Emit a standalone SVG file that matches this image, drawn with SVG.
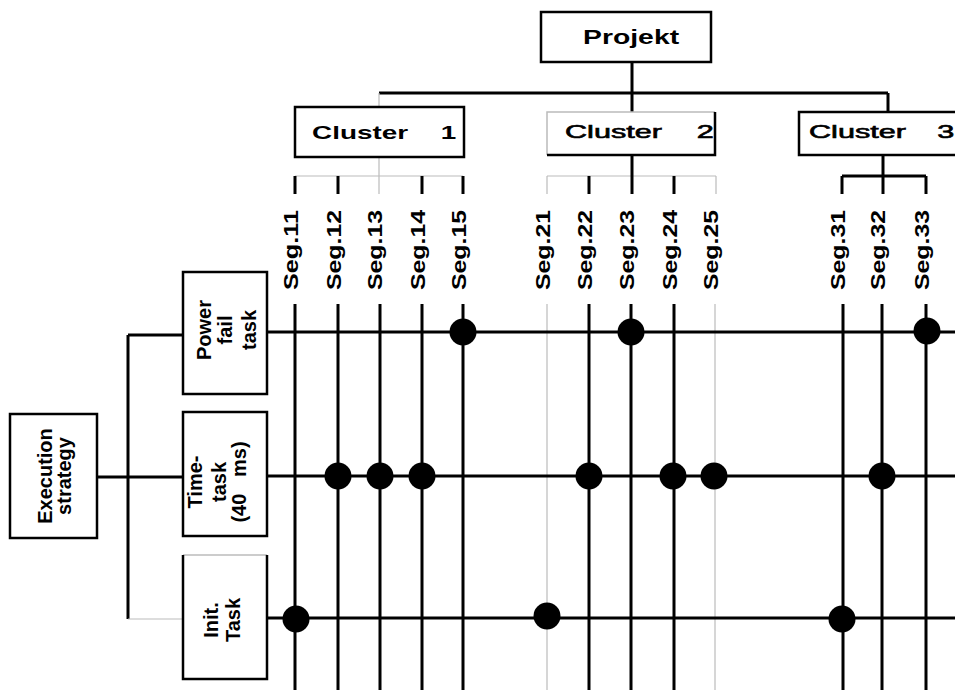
<svg xmlns="http://www.w3.org/2000/svg" width="955" height="690" viewBox="0 0 955 690">
<style>
.bk{stroke:#000;stroke-width:3;fill:none}
.gr{stroke:#bbb;stroke-width:1.2;fill:none}
.box{fill:#fff;stroke:#000;stroke-width:2.5}
.t{font-family:"Liberation Sans",Arial,sans-serif;font-weight:bold;fill:#000}
.tr{font-family:"Liberation Sans",Arial,sans-serif;font-weight:normal;fill:#000;stroke:#000;stroke-width:0.6}
.seg{font-family:"Liberation Sans",Arial,sans-serif;font-weight:bold;font-size:20px;fill:#000}
.dot{fill:#000}
</style>
<rect width="955" height="690" fill="#fff"/>

<g id="connectors">
  <!-- top tree -->
  <line class="bk" x1="632" y1="62" x2="632" y2="112"/>
  <line class="bk" x1="379" y1="93" x2="888" y2="93"/>
  <line class="gr" x1="379" y1="93" x2="379" y2="107"/>
  <line class="bk" x1="888" y1="93" x2="888" y2="112"/>
  <!-- cluster 1 fan -->
  <line class="gr" x1="379" y1="157" x2="379" y2="194"/>
  <line class="gr" x1="295" y1="176" x2="463" y2="176"/>
  <line class="bk" x1="295" y1="176" x2="295" y2="194"/>
  <line class="bk" x1="338" y1="176" x2="338" y2="194"/>
  <line class="bk" x1="422" y1="176" x2="422" y2="194"/>
  <line class="bk" x1="463" y1="176" x2="463" y2="194"/>
  <!-- cluster 2 fan -->
  <line class="gr" x1="547" y1="176" x2="716" y2="176"/>
  <line class="bk" x1="632" y1="155" x2="632" y2="194"/>
  <line class="gr" x1="547" y1="176" x2="547" y2="194"/>
  <line class="bk" x1="589" y1="176" x2="589" y2="194"/>
  <line class="bk" x1="674" y1="176" x2="674" y2="194"/>
  <line class="gr" x1="716" y1="176" x2="716" y2="194"/>
  <!-- cluster 3 fan -->
  <line class="bk" x1="883" y1="155" x2="883" y2="194"/>
  <line class="bk" x1="842" y1="176" x2="926" y2="176"/>
  <line class="bk" x1="842" y1="176" x2="842" y2="194"/>
  <line class="bk" x1="926" y1="176" x2="926" y2="194"/>
  <!-- left tree -->
  <line class="bk" x1="128" y1="335" x2="128" y2="619"/>
  <line class="bk" x1="128" y1="335" x2="183" y2="335"/>
  <line class="bk" x1="97" y1="477" x2="183" y2="477"/>
  <line class="gr" x1="128" y1="619" x2="183" y2="619"/>
  <!-- segment columns -->
  <line class="bk" x1="295" y1="304" x2="295" y2="690"/>
  <line class="bk" x1="338" y1="304" x2="338" y2="690"/>
  <line class="bk" x1="380" y1="304" x2="380" y2="690"/>
  <line class="bk" x1="422" y1="304" x2="422" y2="690"/>
  <line class="bk" x1="463" y1="304" x2="463" y2="690"/>
  <line class="gr" x1="547" y1="304" x2="547" y2="690"/>
  <line class="bk" x1="589" y1="304" x2="589" y2="690"/>
  <line class="bk" x1="631" y1="304" x2="631" y2="690"/>
  <line class="bk" x1="674" y1="304" x2="674" y2="690"/>
  <line class="gr" x1="715" y1="304" x2="715" y2="690"/>
  <line class="bk" x1="843" y1="304" x2="843" y2="690"/>
  <line class="bk" x1="882" y1="304" x2="882" y2="690"/>
  <line class="bk" x1="926" y1="304" x2="926" y2="690"/>
  <!-- task rows -->
  <line class="bk" x1="263" y1="332" x2="955" y2="332"/>
  <line class="bk" x1="263" y1="476" x2="955" y2="476"/>
  <line class="bk" x1="263" y1="618" x2="955" y2="618"/>
  <!-- dots -->
  <circle class="dot" cx="463" cy="332" r="13.5"/>
  <circle class="dot" cx="631" cy="332" r="13.5"/>
  <circle class="dot" cx="927" cy="331" r="13.5"/>
  <circle class="dot" cx="338" cy="476" r="13.5"/>
  <circle class="dot" cx="380" cy="476" r="13.5"/>
  <circle class="dot" cx="422" cy="476" r="13.5"/>
  <circle class="dot" cx="589" cy="476" r="13.5"/>
  <circle class="dot" cx="673" cy="476" r="13.5"/>
  <circle class="dot" cx="714" cy="476" r="13.5"/>
  <circle class="dot" cx="882" cy="476" r="13.5"/>
  <circle class="dot" cx="296" cy="619" r="13.5"/>
  <circle class="dot" cx="547" cy="616" r="13.5"/>
  <circle class="dot" cx="842" cy="619" r="13.5"/>
</g>

<g id="projekt">
  <rect class="box" x="541" y="12" width="170" height="50"/>
  <text class="t" font-size="21" transform="translate(583,44) scale(1.35,1)">Projekt</text>
</g>

<g id="cluster1">
  <rect class="box" x="295" y="107" width="169" height="50"/>
  <text class="t" font-size="18" transform="translate(312,139) scale(1.55,1)">Cluster<tspan x="83">1</tspan></text>
</g>

<g id="cluster2">
  <rect x="547" y="112" width="168" height="43" fill="#fff"/>
  <path d="M547,155 V112 H715" stroke="#bbb" stroke-width="1.5" fill="none"/>
  <path d="M715,112 V155 H547" stroke="#000" stroke-width="2.5" fill="none"/>
  <text class="tr" font-size="18" transform="translate(565,138) scale(1.7,1)">Cluster<tspan x="77.5">2</tspan></text>
</g>

<g id="cluster3">
  <rect class="box" x="799" y="112" width="170" height="43"/>
  <text class="tr" font-size="18" transform="translate(809,138) scale(1.7,1)">Cluster<tspan x="75.5">3</tspan></text>
</g>

<g id="segments">
  <text class="seg" transform="translate(298,250) rotate(-90)" text-anchor="middle" textLength="80" lengthAdjust="spacingAndGlyphs">Seg.11</text>
  <text class="seg" transform="translate(341,250) rotate(-90)" text-anchor="middle" textLength="80" lengthAdjust="spacingAndGlyphs">Seg.12</text>
  <text class="seg" transform="translate(382,250) rotate(-90)" text-anchor="middle" textLength="80" lengthAdjust="spacingAndGlyphs">Seg.13</text>
  <text class="seg" transform="translate(425,250) rotate(-90)" text-anchor="middle" textLength="80" lengthAdjust="spacingAndGlyphs">Seg.14</text>
  <text class="seg" transform="translate(466,250) rotate(-90)" text-anchor="middle" textLength="80" lengthAdjust="spacingAndGlyphs">Seg.15</text>
  <text class="seg" transform="translate(550,250) rotate(-90)" text-anchor="middle" textLength="80" lengthAdjust="spacingAndGlyphs">Seg.21</text>
  <text class="seg" transform="translate(592,250) rotate(-90)" text-anchor="middle" textLength="80" lengthAdjust="spacingAndGlyphs">Seg.22</text>
  <text class="seg" transform="translate(634,250) rotate(-90)" text-anchor="middle" textLength="80" lengthAdjust="spacingAndGlyphs">Seg.23</text>
  <text class="seg" transform="translate(677,250) rotate(-90)" text-anchor="middle" textLength="80" lengthAdjust="spacingAndGlyphs">Seg.24</text>
  <text class="seg" transform="translate(718,250) rotate(-90)" text-anchor="middle" textLength="80" lengthAdjust="spacingAndGlyphs">Seg.25</text>
  <text class="seg" transform="translate(845,250) rotate(-90)" text-anchor="middle" textLength="80" lengthAdjust="spacingAndGlyphs">Seg.31</text>
  <text class="seg" transform="translate(885,250) rotate(-90)" text-anchor="middle" textLength="80" lengthAdjust="spacingAndGlyphs">Seg.32</text>
  <text class="seg" transform="translate(929,250) rotate(-90)" text-anchor="middle" textLength="80" lengthAdjust="spacingAndGlyphs">Seg.33</text>
</g>

<g id="power-fail-task">
  <rect class="box" x="183" y="272" width="84" height="122"/>
  <text class="t" font-size="20" transform="translate(211,330) rotate(-90)" text-anchor="middle"><tspan x="0" y="0">Power</tspan><tspan x="0" y="21">fail</tspan><tspan x="0" y="45">task</tspan></text>
</g>

<g id="time-task">
  <rect class="box" x="183" y="412" width="84" height="124"/>
  <text class="t" font-size="20" transform="translate(202,482) rotate(-90)" text-anchor="middle"><tspan x="0" y="0">Time-</tspan><tspan x="0" y="24">task</tspan><tspan x="0" y="44" xml:space="preserve">(40   ms)</tspan></text>
</g>

<g id="init-task">
  <rect x="183" y="555" width="84" height="124" fill="#fff"/>
  <path d="M183,555 H267" stroke="#bbb" stroke-width="1.5" fill="none"/>
  <path d="M183,555 V679 H267 V555" stroke="#000" stroke-width="2.5" fill="none"/>
  <text class="t" font-size="20" transform="translate(218,620) rotate(-90)" text-anchor="middle"><tspan x="0" y="0">Init.</tspan><tspan x="0" y="22">Task</tspan></text>
</g>

<g id="execution-strategy">
  <rect class="box" x="10" y="414" width="87" height="124"/>
  <text class="t" font-size="20" transform="translate(52,476) rotate(-90)" text-anchor="middle"><tspan x="0" y="0">Execution</tspan><tspan x="0" y="19">strategy</tspan></text>
</g>
</svg>
